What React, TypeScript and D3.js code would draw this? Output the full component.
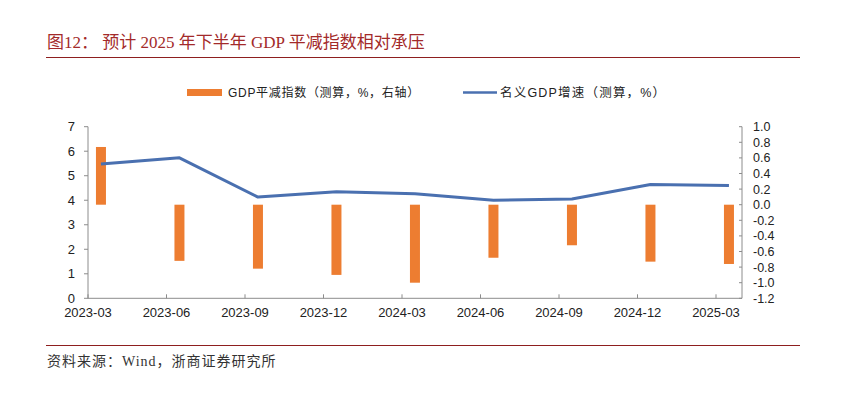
import React from "react";
import * as d3 from "d3";

const categories = ["2023-03","2023-06","2023-09","2023-12","2024-03","2024-06","2024-09","2024-12","2025-03"];
const deflator = [0.74, -0.72, -0.82, -0.9, -1.0, -0.68, -0.52, -0.73, -0.76];
const nominalGDP = [5.48, 5.73, 4.13, 4.35, 4.26, 4.0, 4.05, 4.64, 4.6];
const leftTicks = [0,1,2,3,4,5,6,7];
const rightTicks = [1.0,0.8,0.6,0.4,0.2,0.0,-0.2,-0.4,-0.6,-0.8,-1.0,-1.2];

const W = 852, H = 398;
const plot = { left: 88, right: 742, top: 126.7, bottom: 298.3 };
const ORANGE = "#ED7D31";
const BLUE = "#4A70B0";
const AXIS = "#8C8C8C";
const NUM_FONT = "'Liberation Sans', Arial, sans-serif";
const CJK_FONT = "'Liberation Sans', 'Noto Sans CJK SC', sans-serif";
const SERIF = "'Liberation Serif', 'Noto Sans CJK SC', serif";

export default function App() {
  const step = 78.5;
  const x = d3.scaleLinear().domain([0, (plot.right - plot.left) / step]).range([plot.left, plot.right]);
  const offset = 0.165;
  const yL = d3.scaleLinear().domain([0, 7]).range([plot.bottom, plot.top]);
  const yR = d3.scaleLinear().domain([-1.2, 1.0]).range([plot.bottom, plot.top]);
  const line = d3.line<number>().x((_, i) => x(i + offset)).y(d => yL(d));
  const barW = 10;

  return (
    <svg width={W} height={H} style={{ position: "absolute", left: 0, top: 0, background: "#fff" }}>
      <rect width={W} height={H} fill="#fff" />
      {/* title */}
      <text x={47} y={48} fontSize={17} fill="#A32A2A" fontFamily={SERIF}>
        图12：  预计 2025 年下半年 GDP 平减指数相对承压
      </text>
      <line x1={46} x2={800} y1={57.5} y2={57.5} stroke="#8E1F1F" strokeWidth={1.2} />

      {/* legend */}
      <rect x={187} y={89} width={35} height={7} fill={ORANGE} />
      <text x={228} y={97} fontSize={12} letterSpacing={0.7} fill="#222" fontFamily={CJK_FONT}>GDP平减指数（测算，%，右轴）</text>
      <line x1={463} x2={497} y1={92.5} y2={92.5} stroke={BLUE} strokeWidth={2.5} />
      <text x={500} y={97} fontSize={12.5} letterSpacing={1.2} fill="#222" fontFamily={CJK_FONT}>名义GDP增速（测算，%）</text>

      {/* bars */}
      {deflator.map((v, i) => (
        <rect key={i} x={x(i + offset) - barW / 2} width={barW}
          y={Math.min(yR(v), yR(0))} height={Math.abs(yR(v) - yR(0))} fill={ORANGE} />
      ))}

      {/* line */}
      <path d={line(nominalGDP) || ""} fill="none" stroke={BLUE} strokeWidth={3} strokeLinejoin="round" />

      {/* axes */}
      <line x1={plot.left} x2={plot.left} y1={plot.top} y2={plot.bottom} stroke={AXIS} />
      <line x1={plot.right} x2={plot.right} y1={plot.top} y2={plot.bottom} stroke={AXIS} />
      <line x1={plot.left} x2={plot.right} y1={plot.bottom} y2={plot.bottom} stroke={AXIS} />
      {leftTicks.map(t => (
        <g key={"l" + t}>
          <line x1={plot.left - 4} x2={plot.left} y1={yL(t)} y2={yL(t)} stroke={AXIS} />
          <text x={75} y={yL(t) + 4.5} fontSize={13} textAnchor="end" fill="#222" fontFamily={NUM_FONT}>{t}</text>
        </g>
      ))}
      {rightTicks.map(t => (
        <g key={"r" + t}>
          <line x1={plot.right - 3} x2={plot.right} y1={yR(t)} y2={yR(t)} stroke={AXIS} />
          <text x={753} y={yR(t) + 4.5} fontSize={12.5} fill="#222" fontFamily={NUM_FONT}>{t.toFixed(1)}</text>
        </g>
      ))}
      {categories.map((c, i) => (
        <g key={c}>
          <line x1={x(i)} x2={x(i)} y1={plot.bottom - 4} y2={plot.bottom} stroke={AXIS} />
          <text x={x(i)} y={317} fontSize={13} textAnchor="middle" fill="#222" fontFamily={NUM_FONT}>{c}</text>
        </g>
      ))}

      {/* footer */}
      <line x1={46} x2={800} y1={345.5} y2={345.5} stroke="#8E1F1F" strokeWidth={1.2} />
      <text x={47} y={366} fontSize={14} letterSpacing={1} fill="#333" fontFamily={SERIF}>资料来源：Wind，浙商证券研究所</text>
    </svg>
  );
}
